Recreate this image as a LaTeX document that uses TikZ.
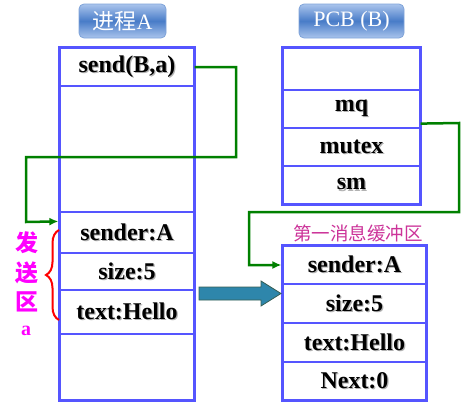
\documentclass[tikz,border=0pt]{standalone}
\usepackage{fontspec}
\setmainfont{Liberation Serif}
\newfontfamily\cjk{Noto Sans CJK SC}
\usetikzlibrary{arrows.meta,decorations.pathreplacing,calc}
\definecolor{boxblue}{RGB}{85,85,255}
\definecolor{lgreen}{RGB}{0,128,0}
\definecolor{arrowblue}{RGB}{46,134,171}
\definecolor{arrowedge}{RGB}{55,95,85}
\definecolor{tblue}{RGB}{72,124,200}
\definecolor{tlight}{RGB}{170,196,236}
\definecolor{pinkc}{RGB}{204,51,153}
\definecolor{magc}{RGB}{255,0,255}
\newcommand\shadowtxt[1]{\rlap{\raisebox{-1.2pt}{\kern1.2pt\textcolor{black!30}{#1}}}#1}
\begin{document}
\begin{tikzpicture}[x=1pt,y=-1pt,
  row/.style={draw=boxblue, line width=1.2pt, minimum width=#1, inner sep=0pt,
              font=\fontsize{24}{24}\selectfont\bfseries},
  frame/.style={draw=boxblue, line width=3pt},
  titlebox/.style={rounded corners=5pt, draw=tblue!70, line width=0.8pt,
              top color=tlight, bottom color=tlight, middle color=tblue,
              text=white, minimum height=34pt, inner sep=0pt,
              font=\fontsize{22}{22}\selectfont},
  link/.style={draw=lgreen, line width=2.5pt, -{Latex[length=9pt,width=8pt]}},
  sendlbl/.style={text=magc, font=\cjk\fontsize{23}{23}\selectfont\bfseries, inner sep=0pt}
]
\useasboundingbox (0,0) rectangle (461,415);
\fill[white] (0,0) rectangle (461,415);

% titles
\node[titlebox, minimum width=87pt] (tA) at (122.5,21) {{\cjk 进程}A};
\node[titlebox, minimum width=105pt] (tB) at (351.5,21) {PCB (B)};

% process A
\node[row=134pt, minimum height=38pt]  (a1) at (127,67)   {\shadowtxt{send(B,a)}};
\node[row=134pt, minimum height=126pt] (a2) at (127,149)  {};
\node[row=134pt, minimum height=41pt]  (a3) at (127,232.5){\shadowtxt{sender:A}};
\node[row=134pt, minimum height=37pt]  (a4) at (127,271.5){\shadowtxt{size:5}};
\node[row=134pt, minimum height=44pt]  (a5) at (127,312)  {\shadowtxt{text:Hello}};
\node[row=134pt, minimum height=66pt]  (a6) at (127,367)  {};
\draw[frame] (a1.north west) rectangle (a6.south east);

% PCB B
\node[row=137pt, minimum height=42pt] (p1) at (351.5,69)  {};
\node[row=137pt, minimum height=38pt] (p2) at (351.5,109) {\shadowtxt{mq}};
\node[row=137pt, minimum height=38pt] (p3) at (351.5,147) {\shadowtxt{mutex}};
\node[row=137pt, minimum height=38pt] (p4) at (351.5,185) {\shadowtxt{sm}};
\draw[frame] (p1.north west) rectangle (p4.south east);

% message buffer
\node[text=pinkc, font=\cjk\fontsize{18.5}{18.5}\selectfont, inner sep=0pt] (lbl) at (358,233) {第一消息缓冲区};
\node[row=143pt, minimum height=38pt] (b1) at (354.5,265)   {\shadowtxt{sender:A}};
\node[row=143pt, minimum height=39pt] (b2) at (354.5,303.5) {\shadowtxt{size:5}};
\node[row=143pt, minimum height=39pt] (b3) at (354.5,342.5) {\shadowtxt{text:Hello}};
\node[row=143pt, minimum height=38pt] (b4) at (354.5,381)   {\shadowtxt{Next:0}};
\draw[frame] (b1.north west) rectangle (b4.south east);

% green links
\draw[link, shorten >=1pt] (a1.east) -- (236,67) -- (236,157) -- (26,157) -- (26,222)
   -- ($(a3.north west)+(0,10)$);
\draw[link, shorten >=1pt] ($(p2.south east)+(0,-5)$) -- (459,123) -- (459,212)
   -- (249,212) -- (249,265) -- (b1.west);

% big arrow
\fill[arrowblue, draw=arrowedge, line width=0.8pt]
  (199,287) -- (261,287) -- (261,281) -- (281,293.5) -- (261,306) -- (261,300) -- (199,300) -- cycle;

% brace and label
\draw[red, line width=2pt, decorate, decoration={brace, amplitude=13pt}] (59,320) -- (59,230);
\node[sendlbl] (s1) at (27,243) {发};
\node[sendlbl] (s2) at (27,273) {送};
\node[sendlbl] (s3) at (27,302) {区};
\node[text=magc, font=\fontsize{20}{20}\selectfont\bfseries, inner sep=0pt] (s4) at (26,331) {a};
\end{tikzpicture}
\end{document}
